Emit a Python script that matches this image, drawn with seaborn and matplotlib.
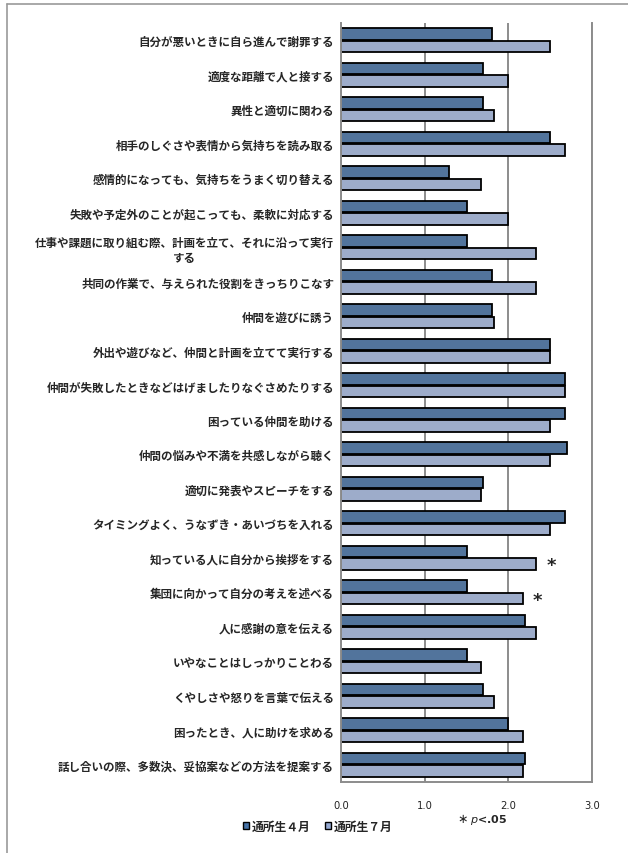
import matplotlib
matplotlib.use("Agg")
import matplotlib.pyplot as plt
import matplotlib.lines as mlines
import matplotlib.patches as mpatches
import numpy as np
import pandas as pd
import seaborn as sns

# Items (top to bottom)
items = [
    "自分が悪いときに自ら進んで謝罪する",
    "適度な距離で人と接する",
    "異性と適切に関わる",
    "相手のしぐさや表情から気持ちを読み取る",
    "感情的になっても、気持ちをうまく切り替える",
    "失敗や予定外のことが起こっても、柔軟に対応する",
    "仕事や課題に取り組む際、計画を立て、それに沿って実行\nする",
    "共同の作業で、与えられた役割をきっちりこなす",
    "仲間を遊びに誘う",
    "外出や遊びなど、仲間と計画を立てて実行する",
    "仲間が失敗したときなどはげましたりなぐさめたりする",
    "困っている仲間を助ける",
    "仲間の悩みや不満を共感しながら聴く",
    "適切に発表やスピーチをする",
    "タイミングよく、うなずき・あいづちを入れる",
    "知っている人に自分から挨拶をする",
    "集団に向かって自分の考えを述べる",
    "人に感謝の意を伝える",
    "いやなことはしっかりことわる",
    "くやしさや怒りを言葉で伝える",
    "困ったとき、人に助けを求める",
    "話し合いの際、多数決、妥協案などの方法を提案する",
]

# Mean scores
april = [1.80, 1.69, 1.69, 2.50, 1.29, 1.50, 1.50, 1.80, 1.80, 2.50, 2.67,
         2.67, 2.70, 1.69, 2.67, 1.50, 1.50, 2.20, 1.50, 1.69, 2.00, 2.20]
july = [2.50, 2.00, 1.83, 2.67, 1.67, 2.00, 2.33, 2.33, 1.83, 2.50, 2.67,
        2.50, 2.50, 1.67, 2.50, 2.33, 2.17, 2.33, 1.67, 1.83, 2.17, 2.17]

series_names = ["通所生４月", "通所生７月"]
significant = ["知っている人に自分から挨拶をする", "集団に向かって自分の考えを述べる"]
xticks = [0.0, 1.0, 2.0, 3.0]

colors = ["#4673a8", "#95a9d2"]

df = pd.DataFrame({
    "item": items * 2,
    "score": april + july,
    "period": [series_names[0]] * len(items) + [series_names[1]] * len(items),
})

sns.set_style("white")
plt.rcParams["font.family"] = ["Noto Sans CJK JP", "DejaVu Sans"]

fig = plt.figure(figsize=(6.28, 8.54), dpi=100)
ax = fig.add_axes([0.543, 0.0831, 0.4, 0.8888])

sns.barplot(data=df, y="item", x="score", hue="period", order=items,
            hue_order=series_names, palette=colors, orient="h",
            width=0.74, gap=0.1, edgecolor="black", linewidth=1.3,
            ax=ax, legend=False)

ax.set_xlim(0, 3)
ax.set_ylim(len(items) - 0.5, -0.5)
ax.set_xticks(xticks)
ax.set_xticklabels([f"{t:.1f}" for t in xticks], fontsize=7.2,
                   family="DejaVu Sans", color="#222222")
ax.tick_params(axis="x", length=0, pad=13)
ax.tick_params(axis="y", length=0, pad=5)
for lab in ax.get_yticklabels():
    lab.set_fontsize(8.3)
    lab.set_fontweight("bold")
    lab.set_multialignment("center")
ax.set_xlabel("")
ax.set_ylabel("")

ax.grid(axis="x", color="#8c8c8c", linewidth=1.4)
ax.set_axisbelow(True)
for side in ["left", "bottom", "right"]:
    ax.spines[side].set_color("#8c8c8c")
    ax.spines[side].set_linewidth(1.4)
ax.spines["top"].set_visible(False)

# significance markers next to the July bars
for name in significant:
    i = items.index(name)
    ax.text(july[i] + 0.18, i + 0.22, "*", fontsize=13, fontweight="bold",
            ha="center", va="center", family="DejaVu Sans")

# legend
handles = [mpatches.Patch(facecolor=c, edgecolor="black", linewidth=1.0, label=n)
           for c, n in zip(colors, series_names)]
leg = fig.legend(handles=handles, loc="center left", bbox_to_anchor=(0.37, 0.031),
                 ncol=2, frameon=False, handlelength=0.55, handleheight=0.55,
                 handletextpad=0.2, columnspacing=1.2,
                 prop={"weight": "bold", "size": 8.5})

fig.text(0.728, 0.040, r"$\ast$", fontsize=9, fontweight="bold", ha="left", va="center")
fig.text(0.748, 0.040, r"$\bf{\it{p}}$<.05", fontsize=8, fontweight="bold",
         ha="left", va="center", family="DejaVu Sans")

# outer frame lines
fig.add_artist(mlines.Line2D([6.5 / 628, 1.0], [1 - 4.5 / 854, 1 - 4.5 / 854],
                             color="#999999", linewidth=1.2, transform=fig.transFigure))
fig.add_artist(mlines.Line2D([6.5 / 628, 6.5 / 628], [0, 1 - 4.5 / 854],
                             color="#999999", linewidth=1.2, transform=fig.transFigure))

fig.savefig("out.png", dpi=100)
